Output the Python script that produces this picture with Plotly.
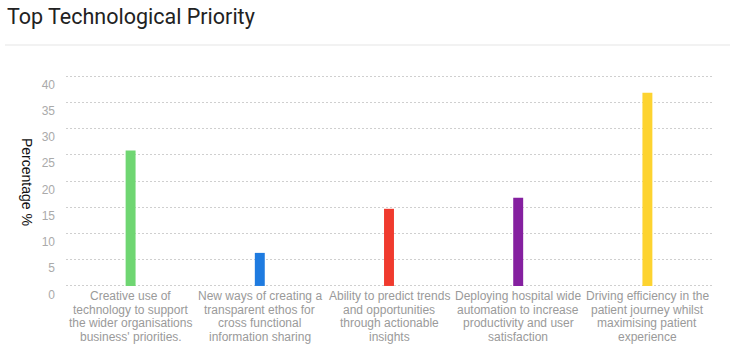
import plotly.graph_objects as go

categories = [
    "Creative use of<br>technology to support<br>the wider organisations<br>business' priorities.",
    "New ways of creating a<br>transparent ethos for<br>cross functional<br>information sharing",
    "Ability to predict trends<br>and opportunities<br>through actionable<br>insights",
    "Deploying hospital wide<br>automation to increase<br>productivity and user<br>satisfaction",
    "Driving efficiency in the<br>patient journey whilst<br>maximising patient<br>experience",
]
values = [25.8, 6.3, 14.7, 16.8, 36.8]
colors = ["#6fd672", "#1e7be0", "#f03a2e", "#8520a0", "#fdd330"]
tick_values = [0, 5, 10, 15, 20, 25, 30, 35, 40]

W, H = 730, 354
y_lo, y_hi = -0.2, 40.2
px_per_unit = 210 / 40
L, R = 66, 18
T = int(round(76 - (y_hi - 40) * px_per_unit))
B = int(round(H - 286 - (0 - y_lo) * px_per_unit))
pw, ph = W - L - R, H - T - B


def py(px):
    """pixel row -> paper y"""
    return (H - B - px) / ph


fig = go.Figure()
fig.add_trace(go.Bar(
    x=categories, y=values,
    marker=dict(color=colors, line=dict(width=0)),
    width=0.077,
    hoverinfo="y",
))

# category labels: one annotation per line for tighter line spacing
annotations = []
for cat in categories:
    for i, line in enumerate(cat.split("<br>")):
        annotations.append(dict(
            text=line, xref="x", yref="paper", x=cat, y=py(296 + 13.6 * i),
            xanchor="center", yanchor="middle", showarrow=False,
            font=dict(family="Liberation Sans, Arial", size=12, color="#9a9a9a")))

annotations.append(dict(text="Percentage %", xref="paper", yref="paper",
                        x=(27 - L) / pw, y=py(182), textangle=90,
                        showarrow=False, xanchor="center", yanchor="middle",
                        font=dict(family="Liberation Sans, Arial", size=14, color="#111111")))

fig.update_layout(
    width=W, height=H,
    margin=dict(l=L, r=R, t=T, b=B, pad=0),
    paper_bgcolor="white", plot_bgcolor="white",
    showlegend=False,
    title=dict(text="Top Technological Priority", xref="container", yref="container",
               x=7 / W, y=1 - 16 / H, xanchor="left", yanchor="middle",
               font=dict(family="Roboto", size=21.5, color="#222222")),
    xaxis=dict(showgrid=False, showline=False, zeroline=False, ticks="",
               showticklabels=False, automargin=False, fixedrange=True),
    yaxis=dict(range=[y_lo, y_hi], tickvals=tick_values, showgrid=True, gridcolor="#cfcfcf",
               griddash="2px,2px", gridwidth=1, zeroline=False, showline=False, ticks="",
               ticklabelposition="outside bottom", ticklabelstandoff=10,
               tickfont=dict(family="Liberation Sans, Arial", size=12, color="#aaaaaa"),
               automargin=False, fixedrange=True),
    shapes=[dict(type="line", xref="paper", yref="paper",
                 x0=(5 - L) / pw, x1=(W - L) / pw,
                 y0=py(45), y1=py(45),
                 line=dict(color="#e5e5e5", width=1))],
    annotations=annotations,
)

fig.write_html("out.html")
